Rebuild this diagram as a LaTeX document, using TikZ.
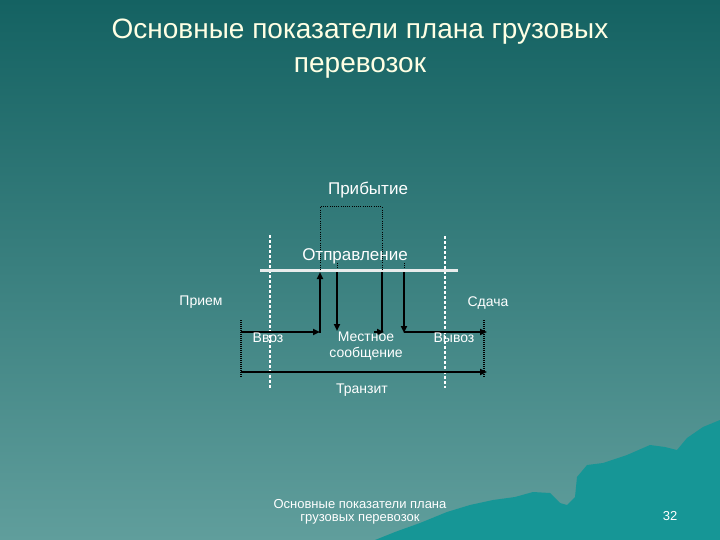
\documentclass[tikz,border=0pt]{standalone}
\usepackage{fontspec}
\setmainfont{Liberation Sans}
\usetikzlibrary{arrows.meta}
\definecolor{bgtop}{RGB}{20,98,98}
\definecolor{bgbot}{RGB}{96,158,156}
\definecolor{wavecol}{RGB}{22,150,150}
\definecolor{titlecol}{RGB}{255,255,228}
\definecolor{linewhite}{RGB}{232,236,236}
\begin{document}
\begin{tikzpicture}[x=1pt,y=-1pt,
  titletext/.style={text=titlecol,font=\fontsize{28}{34}\selectfont,align=center,inner sep=0pt},
  lbl/.style={text=white,font=\fontsize{14}{16}\selectfont,inner sep=0pt,align=center},
  biglbl/.style={text=white,font=\fontsize{17}{19}\selectfont,inner sep=0pt},
  foot/.style={text=white,font=\fontsize{13}{13}\selectfont,inner sep=0pt,align=center},
  solidarrow/.style={line width=2pt,-{Triangle[length=7pt,width=6pt]}},
  solidline/.style={line width=2pt},
  thindot/.style={line width=1pt,dash pattern=on 1pt off 1.2pt},
  blackdot/.style={line width=2pt,dash pattern=on 1pt off 1pt},
  whitedot/.style={line width=2pt,white,dash pattern=on 3pt off 2pt},
  baseline/.style={line width=3pt,linewhite},
]
\shade[top color=bgtop,bottom color=bgbot] (0,0) rectangle (720,540);
\useasboundingbox (0,0) rectangle (720,540);
% wave in the corner
\fill[wavecol] (375,540) -- (395,532) -- (420,523) -- (447,512) -- (470,505) -- (493,500)
  -- (515,497) -- (533,492) -- (550,493) -- (560,503) -- (567,505) -- (575,497)
  -- (577,477) -- (587,465) -- (603,463) -- (627,455) -- (650,445) -- (665,447)
  -- (677,450) -- (687,438) -- (703,427) -- (720,420) -- (720,540) -- cycle;

% title
\node[titletext,anchor=north] (title) at (360,19) {Основные показатели плана грузовых\\перевозок};

% coordinates
\coordinate (wl) at (260,270);
\coordinate (wr) at (458,270);
\coordinate (pa) at (320,207);
\coordinate (pb) at (382,207);

% white dotted verticals and white line
\draw[whitedot] (270,235) coordinate (w1t) -- (270,388) coordinate (w1b);
\draw[whitedot] (445,236) coordinate (w2t) -- (445,388) coordinate (w2b);
\draw[baseline] (wl) -- (wr);

% black dotted end marks
\draw[blackdot] (241,320) coordinate (e1t) -- (241,378) coordinate (e1b);
\draw[blackdot] (484,320) coordinate (e2t) -- (484,377) coordinate (e2b);

% Прибытие bracket
\draw[thindot] (320,270) -- (pa) -- (pb) -- (382,270);
% Отправление stubs
\draw[thindot] (337,263) -- (337,269);
\draw[thindot] (404,263) -- (404,269);

% arrows
\coordinate (vz0) at (241,332);
\coordinate (vz1) at (320,332);
\draw[solidarrow] (vz0) -- (vz1);
\draw[solidarrow] (320,333) -- (320,272);
\draw[solidline] (382,272) -- (382,332);
\draw[solidarrow] (374,332) -- (384,332);
\draw[solidarrow] (337,272) -- (337,331);
\draw[solidarrow] (404,272) -- (404,333);
\coordinate (vy0) at (404,332);
\coordinate (vy1) at (487,332);
\draw[solidarrow] (vy0) -- (vy1);
\coordinate (tr0) at (241,372);
\coordinate (tr1) at (487,372);
\draw[solidarrow] (tr0) -- (tr1);

% labels
\node[biglbl] (prib) at (368,190) {Прибытие};
\node[biglbl] (otpr) at (355,256) {Отправление};
\node[lbl] (priem) at (201,302) {Прием};
\node[lbl] (sdacha) at (488,303) {Сдача};
\node[lbl] (vvoz) at (268,338) {Ввоз};
\node[lbl] (mestn) at (366,346) {Местное\\сообщение};
\node[lbl] (vyvoz) at (454,338) {Вывоз};
\node[lbl] (tranzit) at (362,390) {Транзит};

% footer
\node[foot] (footer) at (360,512) {Основные показатели плана\\грузовых перевозок};
\node[foot] (pagenum) at (670,516) {32};
\end{tikzpicture}
\end{document}
